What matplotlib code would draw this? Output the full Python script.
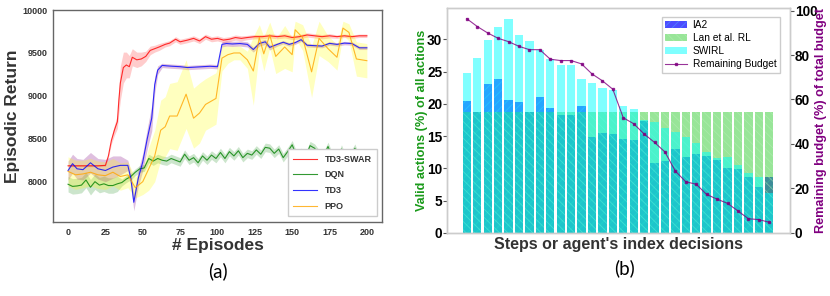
import numpy as np
import matplotlib.pyplot as plt

plt.rcParams['font.family'] = ['Liberation Sans', 'DejaVu Sans']
plt.rcParams['hatch.linewidth'] = 0.6

# ---- (a) episodic return ----
red_x = [0, 5, 10, 15, 20, 25, 27, 29, 31, 33, 34, 35, 37, 39, 41, 43, 46, 49,
         52, 55, 58, 61, 65, 68, 72, 75, 80, 84, 88, 92, 96, 100, 104, 108, 112, 116,
         120, 125, 130, 135, 140, 145, 150, 155, 160, 165, 170, 175, 180, 185, 190, 195, 200]
red_y = [8185, 8185, 8185, 8185, 8185, 8190, 8300, 8480, 8600, 8700, 8950, 9150,
         9330, 9360, 9340, 9450, 9420, 9430, 9460, 9530, 9550, 9570, 9600, 9615,
         9660, 9630, 9650, 9670, 9640, 9690, 9660, 9670, 9650, 9660, 9680, 9670,
         9680, 9690, 9690, 9700, 9690, 9700, 9680, 9690, 9710, 9700, 9690, 9700,
         9690, 9700, 9690, 9700, 9700]
red_sd = [10, 10, 10, 10, 10, 10, 20, 40, 60, 80, 150, 200,
          180, 150, 130, 100, 90, 80, 60, 50, 40, 40, 30, 30,
          30, 30, 30, 30, 30, 30, 30, 30, 30, 30, 30, 30,
          25, 25, 25, 25, 25, 25, 25, 25, 25, 25, 25, 25,
          20, 20, 20, 20, 20]

dqn_x = list(range(0, 199, 3))
dqn_y = [7970, 7945, 7950, 7960, 8020, 7935, 8000, 7960, 7975, 7955, 7955, 7975,
         7990, 8030, 8060, 8110, 8150, 8160, 8270, 8240, 8270, 8250, 8240, 8270,
         8250, 8230, 8320, 8250, 8280, 8220, 8300, 8250, 8310, 8270, 8340, 8270,
         8350, 8300, 8360, 8280, 8330, 8310, 8370, 8320, 8400, 8390, 8330, 8380,
         8280, 8350, 8430, 8300, 8340, 8290, 8420, 8390, 8320, 8300, 8410, 8280,
         8240, 8380, 8250, 8300, 8390, 8250, 8340]
dqn_sd = [90] * 12 + [40] * 6 + [50] * 49

td3_x = [0, 3, 6, 10, 15, 20, 25, 30, 35, 40, 42, 44, 47, 50, 53, 56, 58, 60,
         63, 66, 70, 75, 80, 85, 90, 95, 100, 103, 106, 110, 115, 120, 124, 128,
         132, 135, 140, 144, 148, 152, 156, 160, 165, 170, 175, 180, 185, 190, 195, 200]
td3_y = [8130, 8210, 8150, 8140, 8220, 8150, 8130, 8170, 8190, 8190, 8040, 7760,
         8040, 8230, 8500, 8740, 9130, 9300, 9355, 9350, 9345, 9340, 9330, 9335,
         9340, 9345, 9340, 9600, 9610, 9605, 9610, 9600, 9540, 9610, 9630, 9565,
         9600, 9625, 9600, 9620, 9655, 9590, 9585, 9580, 9612, 9600, 9615, 9610,
         9560, 9560]
td3_sd = [110, 110, 120, 120, 120, 120, 130, 130, 110, 60, 80, 100,
          100, 100, 120, 150, 100, 50, 25, 25, 25, 25, 25, 25,
          25, 25, 25, 30, 30, 30, 30, 30, 30, 30, 30, 30,
          20, 20, 20, 20, 20, 20, 20, 20, 20, 20, 20, 20, 20, 20]

ppo_x = [0, 5, 10, 15, 20, 25, 30, 35, 40, 45, 50, 54, 58, 62, 65, 68, 73, 79,
         84, 88, 92, 96, 99, 103, 107, 111, 115, 120, 124, 128, 131, 135, 139, 145,
         150, 152, 157, 163, 168, 174, 180, 184, 188, 193, 200]
ppo_y = [8120, 8080, 8090, 8110, 8080, 8070, 8110, 8060, 8080, 7930, 8000, 8150,
         8300, 8600, 8640, 8765, 8765, 9020, 8740, 8800, 8900, 8940, 8970, 9440,
         9480, 9500, 9500, 9420, 9290, 9680, 9490, 9710, 9460, 9570, 9480, 9770,
         9680, 9280, 9670, 9550, 9450, 9790, 9740, 9430, 9410]
ppo_sd = [170, 170, 160, 160, 160, 160, 160, 160, 150, 120, 150, 250,
          300, 350, 350, 380, 400, 400, 350, 350, 300, 300, 300, 150,
          100, 80, 80, 100, 400, 150, 200, 150, 200, 250, 200, 100,
          150, 300, 200, 150, 150, 80, 100, 200, 200]

# ---- (b) valid actions ----
steps = np.arange(30)
ia2 = [20.5, 18.7, 23.1, 23.9, 20.6, 20.3, 18.7, 21.1, 19.4, 18.3, 18.3, 19.7,
       14.8, 15.5, 15.3, 14.6, 14.4, 17.3, 10.9, 11.1, 13.0, 11.7, 12.2, 11.9,
       11.3, 10.1, 9.9, 8.6, 7.1, 8.6]
lan = [18.7] * 30
swirl = [24.8, 27.1, 29.9, 31.9, 33.1, 30.7, 29.7, 28.3, 27.0, 26.0, 26.0, 23.9,
         23.3, 22.4, 22.2, 19.7, 19.2, 17.5, 17.2, 16.2, 15.7, 14.9, 13.9, 12.5,
         11.6, 11.7, 10.6, 9.3, 8.6, 6.2]
budget = [96.3, 92.8, 89.9, 87.5, 86.0, 83.9, 82.4, 82.4, 78.1, 77.5, 77.5, 76.0,
          71.5, 68.4, 64.6, 51.8, 49.1, 44.5, 40.7, 36.4, 27.8, 23.0, 21.9, 17.3,
          15.2, 13.3, 9.9, 6.4, 6.0, 4.8]

fig = plt.figure(figsize=(8.3, 2.96), dpi=100)

# left panel
ax = fig.add_axes([0.064, 0.25, 0.396, 0.716])
series = [
    (red_x, red_y, red_sd, 'red', 'red', 0.2, 'TD3-SWAR'),
    (dqn_x, dqn_y, dqn_sd, 'green', 'green', 0.2, 'DQN'),
    (td3_x, td3_y, td3_sd, 'blue', 'purple', 0.25, 'TD3'),
    (ppo_x, ppo_y, ppo_sd, 'orange', 'yellow', 0.25, 'PPO'),
]
for x, y, sd, c, bc, a, lab in series:
    y = np.array(y)
    sd = np.array(sd)
    ax.fill_between(x, y - sd, y + sd, color=bc, alpha=a, linewidth=0)
    ax.plot(x, y, color=c, lw=0.8, alpha=0.8, label=lab)

ax.set_xlim(-10, 210)
ax.set_ylim(7530, 10000)
ax.set_xticks(range(0, 201, 25))
ax.set_yticks([8000, 8500, 9000, 9500, 10000])
ax.tick_params(length=0, labelsize=6.5, labelcolor='#333333', pad=4)
for t in ax.get_xticklabels() + ax.get_yticklabels():
    t.set_fontweight('bold')
for s in ax.spines.values():
    s.set_color('#666666')
    s.set_linewidth(1)
ax.set_ylabel('Episodic Return', fontsize=12.5, fontweight='bold', color='#333333')
ax.yaxis.set_label_coords(-0.10, 0.5)
ax.set_xlabel('# Episodes', fontsize=12.5, fontweight='bold', color='#333333')
ax.xaxis.set_label_coords(0.5, -0.075)
leg = ax.legend(loc='lower right', prop={'weight': 'bold', 'size': 6.5},
                handlelength=2.6, handletextpad=0.9, labelspacing=0.75, borderpad=0.6,
                fancybox=False, framealpha=1, bbox_to_anchor=(1.0, 0.005))
leg.get_frame().set_edgecolor('#cccccc')
for t in leg.get_texts():
    t.set_color('#333333')

# right panel
bx = fig.add_axes([0.5386, 0.213, 0.4133, 0.759])
b1 = bx.bar(steps, ia2, width=0.8, color='blue', edgecolor='#4d94ff', linewidth=0,
            alpha=0.7, hatch='////', label='IA2')
b2 = bx.bar(steps, lan, width=0.8, color='limegreen', edgecolor='#b8f0b8', linewidth=0,
            alpha=0.5, hatch='\\\\\\\\', label='Lan et al. RL')
b3 = bx.bar(steps, swirl, width=0.8, color='cyan', linewidth=0, alpha=0.5, label='SWIRL')
bx.set_xlim(-1.9, 31.0)
bx.set_ylim(0, 34.8)
bx.set_xticks([])
bx.set_yticks([0, 5, 10, 15, 20, 25, 30])
bx.tick_params(axis='y', length=3, width=0.8, color='#555555', labelsize=9.8, pad=0.5)
for t in bx.get_yticklabels():
    t.set_fontweight('bold')
bx.set_ylabel('Valid actions (%) of all actions', fontsize=9.1, fontweight='bold',
              color='#1a9a1a')
bx.yaxis.set_label_coords(-0.055, 0.5)
bx.set_xlabel("Steps or agent's index decisions", fontsize=11.5, fontweight='bold',
              color='#333333')
bx.xaxis.set_label_coords(0.5, -0.02)

bx2 = bx.twinx()
ln, = bx2.plot(steps, budget, color='purple', lw=0.8, marker='s', markersize=1.8,
               alpha=0.8, label='Remaining Budget')
bx2.set_ylim(0, 101)
bx2.set_yticks([0, 20, 40, 60, 80, 100])
bx2.tick_params(axis='y', length=3, width=0.8, color='#555555', labelsize=9.8, pad=0.5)
for t in bx2.get_yticklabels():
    t.set_fontweight('bold')
bx2.set_ylabel('Remaining budget (%) of total budget', fontsize=9.1, fontweight='bold',
               color='purple')
bx2.yaxis.set_label_coords(1.073, 0.5)
for a in (bx, bx2):
    for s in a.spines.values():
        s.set_color('#cccccc')
        s.set_linewidth(1)

leg2 = bx2.legend([b1, b2, b3, ln], ['IA2', 'Lan et al. RL', 'SWIRL', 'Remaining Budget'],
                  loc='upper right', fontsize=7.3, handlelength=2.2, handletextpad=0.5,
                  labelspacing=0.3, borderpad=0.35, fancybox=False, framealpha=1,
                  bbox_to_anchor=(0.985, 0.985))
leg2.get_frame().set_edgecolor('#cccccc')

fig.text(0.263, 0.085, '(a)', fontsize=13.5, ha='center', va='center', family=['Lato', 'DejaVu Sans'])
fig.text(0.752, 0.095, '(b)', fontsize=13.5, ha='center', va='center', family=['Lato', 'DejaVu Sans'])

fig.savefig('out.png', dpi=100)
